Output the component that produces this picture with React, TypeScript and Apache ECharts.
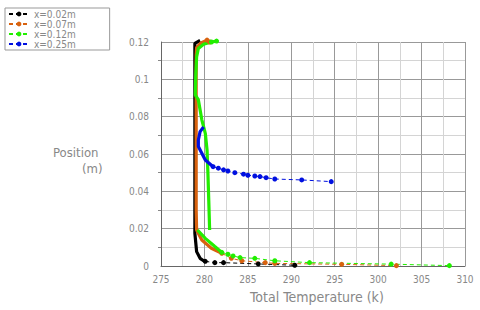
import React, { useEffect, useRef } from "react";
import * as echarts from "echarts";

const seriesNames = ["x=0.02m", "x=0.07m", "x=0.12m", "x=0.25m"];
const seriesColors = ["#000000", "#d8620f", "#22ee00", "#0010e0"];

// [temperature (K), position (m)] – dense wall-normal profile (drawn solid)
const profile002: (number | null)[][] = [
  [279.5, 0.1208], [278.9, 0.1193], [278.9, 0.115], [278.9, 0.1], [278.9, 0.06],
  [278.9, 0.03], [278.9, 0.0175], [279.1, 0.0077], [279.5, 0.0041], [279.9, 0.0028], [280.1, 0.0025],
];
const markers002 = [
  [280.1, 0.0025], [281.2, 0.0018], [282.2, 0.0018], [286.2, 0.0011], [290.4, 0.0004],
];

const profile007: (number | null)[][] = [
  [280.3, 0.121], [279.6, 0.1195], [279.1, 0.117], [279.05, 0.113], [279.05, 0.1],
  [279.05, 0.06], [279.05, 0.03], [279.1, 0.0193], [279.7, 0.0139], [280.8, 0.0095], [282.0, 0.0068],
];
const markers007 = [
  [280.6, 0.12], [280.3, 0.121],
];
const tail007 = [
  [282.0, 0.0068], [283.1, 0.0041], [284.3, 0.0028], [287.0, 0.0018], [288.1, 0.0014],
  [295.8, 0.0009], [302.1, 0.0002],
];

const profile012: (number | null)[][] = [
  [281.4, 0.1205], [280.8, 0.12], [279.9, 0.1188], [279.3, 0.1165], [279.1, 0.112],
  [279.0, 0.102], [278.95, 0.0917], [279.3, 0.089], [279.7, 0.0783], [280.1, 0.0711],
  [280.3, 0.0622], [280.4, 0.05], [280.5, 0.035], [280.6, 0.0193],
  [null, null],
  [279.2, 0.0193], [280.1, 0.0148], [281.2, 0.0104], [282.0, 0.0073],
];
const markers012 = [
  [280.8, 0.12], [281.4, 0.1205],
];
const tail012 = [
  [282.0, 0.0073], [282.7, 0.0063], [283.3, 0.0054], [284.1, 0.0045], [285.8, 0.0041],
  [288.1, 0.0028], [292.1, 0.0018], [301.5, 0.001], [308.2, 0.0002],
];

const profile025: (number | null)[][] = [
  [279.9, 0.0745], [279.5, 0.072], [279.3, 0.0675], [279.3, 0.064], [279.7, 0.0604],
  [280.1, 0.0568], [281.0, 0.0532],
];
const markers025 = [
  [281.0, 0.0532], [281.6, 0.0524], [282.2, 0.0515], [282.7, 0.0509], [283.5, 0.05],
  [284.5, 0.0492], [285.0, 0.0486], [285.8, 0.0482], [286.4, 0.0479], [287.1, 0.0473],
  [288.1, 0.0466], [291.2, 0.0461], [294.6, 0.0452],
];

const xTicks = { min: 275, max: 310, interval: 5 };
const yTicks = { min: 0, max: 0.12, interval: 0.02 };

const FONT = "'DejaVu Sans Condensed', 'Liberation Sans Narrow', 'Roboto', sans-serif";

export default function App() {
  const ref = useRef<HTMLDivElement>(null);
  useEffect(() => {
    if (!ref.current) return;
    const chart = echarts.init(ref.current, undefined, { renderer: "svg" });

    const solid = (name: string, color: string, data: any[]) => ({
      name,
      type: "line",
      data,
      showSymbol: false,
      symbol: "none",
      connectNulls: false,
      clip: false,
      lineStyle: { color, width: 3.2, type: "solid" },
      itemStyle: { color },
      silent: true,
    });
    const dotted = (name: string, color: string, data: any[]) => ({
      name,
      type: "line",
      data,
      symbol: "circle",
      symbolSize: 5,
      showSymbol: true,
      clip: false,
      lineStyle: { color, width: 1, type: [4, 3] },
      itemStyle: { color },
    });

    const series: any[] = [
      solid("p0", seriesColors[0], profile002),
      dotted(seriesNames[0], seriesColors[0], markers002),
      solid("p1", seriesColors[1], profile007),
      dotted(seriesNames[1], seriesColors[1], tail007),
      dotted("m1", seriesColors[1], markers007),
      solid("p2", seriesColors[2], profile012),
      dotted(seriesNames[2], seriesColors[2], tail012),
      dotted("m2", seriesColors[2], markers012),
      solid("p3", seriesColors[3], profile025),
      dotted(seriesNames[3], seriesColors[3], markers025),
    ];

    chart.setOption({
      animation: false,
      backgroundColor: "#ffffff",
      grid: { left: 161, right: 15, top: 42, bottom: 44 },
      legend: {
        data: seriesNames,
        orient: "vertical",
        left: 5,
        top: 8,
        itemWidth: 20,
        itemHeight: 6,
        itemGap: 0,
        padding: [1, 34, 1, 3],
        borderColor: "#999",
        borderWidth: 1,
        textStyle: { color: "#888", fontSize: 10, lineHeight: 10, fontFamily: FONT },
      },
      xAxis: {
        type: "value",
        min: xTicks.min,
        max: xTicks.max,
        interval: xTicks.interval,
        axisLine: { onZero: false, lineStyle: { color: "#666", width: 1 } },
        axisTick: { show: false },
        axisLabel: { color: "#888", fontSize: 10, fontFamily: FONT, margin: 8 },
        splitLine: { show: true, lineStyle: { color: "#999", width: 1 } },
        minorTick: { show: false, splitNumber: 2 },
        minorSplitLine: { show: true, lineStyle: { color: "#d4d4d4", width: 1 } },
      },
      yAxis: {
        type: "value",
        min: yTicks.min,
        max: yTicks.max,
        interval: yTicks.interval,
        axisLine: { show: true, lineStyle: { color: "#666", width: 1 } },
        axisTick: { show: false },
        axisLabel: { color: "#888", fontSize: 10, fontFamily: FONT, margin: 12 },
        splitLine: { show: true, lineStyle: { color: "#999", width: 1 } },
        minorTick: { show: true, splitNumber: 2, length: 3, lineStyle: { color: "#888" } },
        minorSplitLine: { show: true, lineStyle: { color: "#d4d4d4", width: 1 } },
      },
      graphic: [
        {
          type: "text",
          left: 53,
          top: 146,
          style: { text: "Position", fill: "#888", font: `13px ${FONT}` },
        },
        {
          type: "text",
          left: 82,
          top: 162,
          style: { text: "(m)", fill: "#888", font: `13px ${FONT}` },
        },
        {
          type: "text",
          left: 250,
          top: 290,
          style: { text: "Total Temperature (k)", fill: "#888", font: `14px ${FONT}` },
        },
      ],
      series,
    });
    return () => chart.dispose();
  }, []);
  return (
    <div
      ref={ref}
      style={{ position: "fixed", left: 0, top: 0, width: 480, height: 310 }}
    />
  );
}
